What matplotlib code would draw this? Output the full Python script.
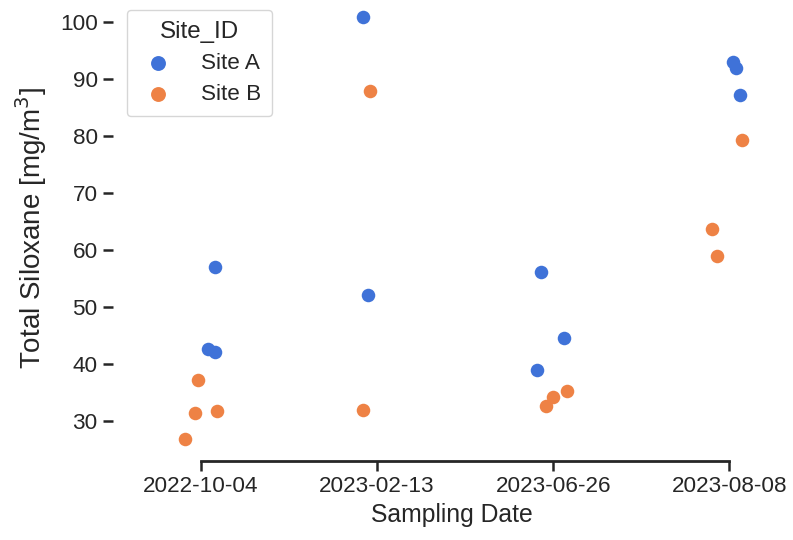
import numpy as np
import pandas as pd
import seaborn as sns
import matplotlib.pyplot as plt

dates = ["2022-10-04", "2023-02-13", "2023-06-26", "2023-08-08"]

# Site A samples
a_date = ["2022-10-04", "2022-10-04", "2022-10-04",
          "2023-02-13", "2023-02-13",
          "2023-06-26", "2023-06-26", "2023-06-26",
          "2023-08-08", "2023-08-08", "2023-08-08"]
a_siloxane = [57.0, 42.6, 42.1, 100.9, 52.1, 56.1, 44.5, 39.0, 93.1, 92.0, 87.2]
a_jitter = [0.08, 0.04, 0.08, -0.08, -0.05, -0.07, 0.06, -0.09, 0.02, 0.04, 0.06]

# Site B samples
b_date = ["2022-10-04", "2022-10-04", "2022-10-04", "2022-10-04",
          "2023-02-13", "2023-02-13",
          "2023-06-26", "2023-06-26", "2023-06-26",
          "2023-08-08", "2023-08-08", "2023-08-08"]
b_siloxane = [37.3, 31.5, 31.7, 26.8, 88.0, 31.9, 32.6, 34.3, 35.3, 79.4, 63.8, 58.9]
b_jitter = [-0.02, -0.035, 0.09, -0.09, -0.04, -0.08, -0.04, 0.0, 0.08, 0.07, -0.10, -0.07]

sns.set_theme(style="ticks", font_scale=1.45)
plt.rcParams['font.family'] = ['Liberation Sans', 'DejaVu Sans']
colors = ["#3f72d8", "#ee8245"]

fig = plt.figure(figsize=(7.93, 5.4), dpi=100)
ax = fig.add_axes([0.1425, 0.1463, 0.855, 0.861])

for name, d, v, j, c in [("Site A", a_date, a_siloxane, a_jitter, colors[0]),
                         ("Site B", b_date, b_siloxane, b_jitter, colors[1])]:
    pos = np.array([dates.index(x) for x in d]) + np.array(j)
    ax.scatter(pos, v, s=95, color=c, linewidth=0, label=name, zorder=3)

ax.set_xticks(range(len(dates)))
ax.set_xticklabels(dates)
ax.set_xlim(-0.5, 3.35)
ax.set_ylim(23, 104.6)
ax.set_yticks(range(30, 101, 10))
ax.tick_params(length=7.5, width=1.8, labelsize=16.2)
ax.set_xlabel("Sampling Date", fontsize=17.8)
ax.set_ylabel("Total Siloxane [mg/m$^3$]", fontsize=20, labelpad=8)
ax.legend(title="Site_ID", loc="upper left", markerscale=1.1, borderpad=0.5,
          handlelength=1.8, handletextpad=1.0, labelspacing=0.45,
          fontsize=16.2, title_fontsize=17.4, borderaxespad=0.6)
sns.despine(ax=ax, left=True, trim=True)
ax.spines["bottom"].set_linewidth(2.0)

fig.savefig("out.png", dpi=100)
